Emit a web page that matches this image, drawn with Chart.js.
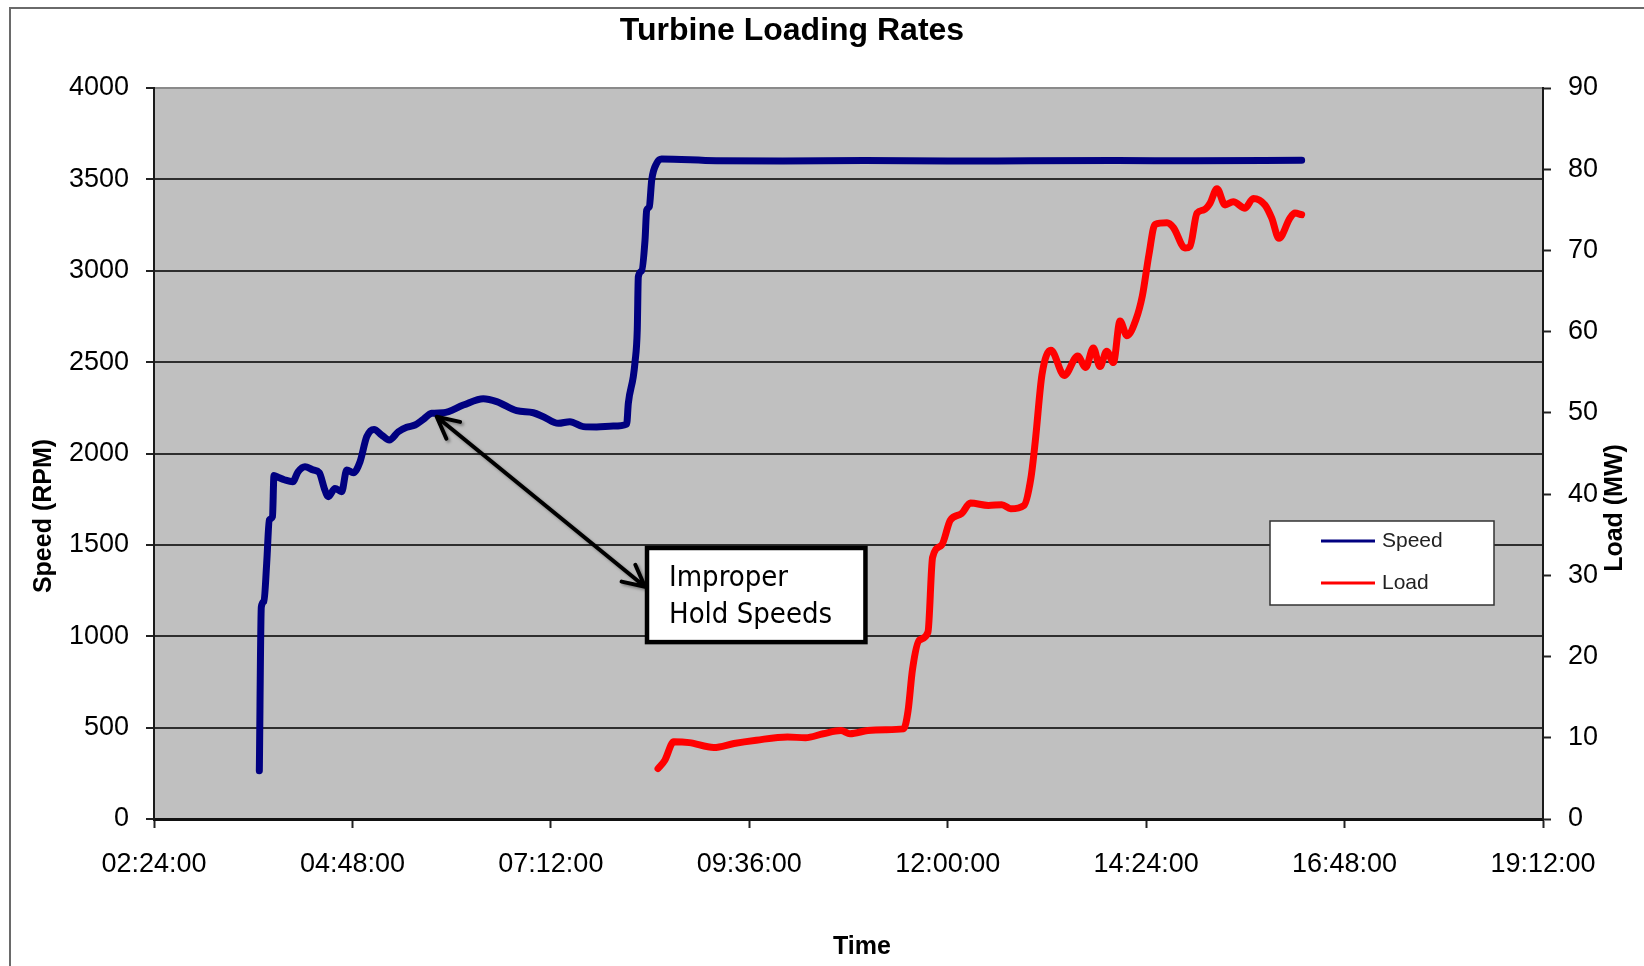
<!DOCTYPE html>
<html>
<head>
<meta charset="utf-8">
<title>Turbine Loading Rates</title>
<script src="https://cdn.jsdelivr.net/npm/chart.js@4.4.1/dist/chart.umd.min.js"></script>
<style>
  html,body{margin:0;padding:0;background:#fff;}
  #wrap{width:1644px;height:966px;}
</style>
</head>
<body>
<div id="wrap"><canvas id="chartTurbine" width="1644" height="966"></canvas></div>
<script>
// valores (hora en decimal)
const speedHours = [3.674, 3.698, 3.730, 3.763, 3.795, 3.833, 3.851, 3.900, 3.984, 4.078,
  4.142, 4.226, 4.323, 4.399, 4.460, 4.508, 4.589, 4.670, 4.731, 4.811,
  4.892, 4.973, 5.061, 5.154, 5.246, 5.355, 5.456, 5.557, 5.657, 5.759,
  5.899, 6.141, 6.383, 6.545, 6.787, 6.988, 7.109, 7.290, 7.431, 7.592,
  7.754, 7.955, 8.117, 8.137, 8.197, 8.218, 8.245, 8.258, 8.299, 8.339,
  8.359, 8.391, 8.420, 8.480, 8.540, 9.2, 10.0, 11.0, 12.0, 13.0,
  14.0, 15.0, 16.281];
const speedRpm = [264, 1160, 1190, 1400, 1636, 1655, 1880, 1870, 1855, 1846,
  1900, 1928, 1910, 1895, 1809, 1764, 1809, 1791, 1910, 1895,
  1955, 2092, 2132, 2101, 2074, 2119, 2143, 2156, 2187, 2220,
  2223, 2265, 2300, 2284, 2234, 2223, 2201, 2165, 2174, 2147,
  2145, 2150, 2161, 2275, 2420, 2500, 2676, 2967, 3000, 3168,
  3332, 3350, 3497, 3588, 3612, 3602, 3601, 3603, 3600, 3602,
  3603, 3602, 3604];

const loadHours = [8.496, 8.577, 8.686, 8.874, 9.171, 9.415, 9.685, 10.062, 10.279, 10.494,
  10.709, 10.818, 11.034, 11.250, 11.466, 11.520, 11.574, 11.655, 11.761, 11.817,
  11.925, 12.032, 12.168, 12.275, 12.492, 12.654, 12.762, 12.922, 13.005, 13.059,
  13.140, 13.248, 13.410, 13.572, 13.669, 13.761, 13.842, 13.923, 14.004, 14.084,
  14.168, 14.277, 14.354, 14.434, 14.507, 14.652, 14.731, 14.870, 14.930, 15.015,
  15.100, 15.172, 15.257, 15.354, 15.454, 15.596, 15.696, 15.837, 15.918, 16.007,
  16.140, 16.200, 16.281];
const loadMw = [6.2, 7.2, 9.5, 9.4, 8.8, 9.3, 9.7, 10.1, 10.0, 10.5,
  10.9, 10.5, 10.9, 11.0, 11.1, 13.3, 18.4, 22.0, 23.0, 32.2,
  33.7, 36.8, 37.6, 38.9, 38.6, 38.7, 38.2, 38.6, 41.9, 46.5,
  54.7, 57.7, 54.6, 57.0, 55.6, 58.0, 55.7, 57.6, 56.2, 61.3,
  59.5, 61.5, 64.4, 69.5, 73.2, 73.4, 72.8, 70.3, 70.5, 74.6,
  75.0, 75.8, 77.6, 75.6, 76.0, 75.2, 76.4, 75.6, 74.0, 71.5,
  74.0, 74.6, 74.4];

const seriesNames = ["Speed", "Load"];
const seriesColors = ["#000080", "#ff0000"];

// nota "Improper Hold Speeds" (en unidades del grafico)
const noteLines = ["Improper", "Hold Speeds"];
const noteArrow = {x1: 5.819, y1: 2201, x2: 8.339, y2: 1271};
const noteBox = {x1: 8.363, y1: 1483, x2: 11.005, y2: 968};

const FONT = "'Liberation Sans', Arial, sans-serif";

function fmtHora(h){
  const min = Math.round(h*60);
  const hh = Math.floor(min/60), mm = min%60;
  return String(hh).padStart(2,"0")+":"+String(mm).padStart(2,"0")+":00";
}

function cabeza(ctx, x, y, ang){
  const len = 24, sp = 0.47;
  ctx.moveTo(x - len*Math.cos(ang - sp), y - len*Math.sin(ang - sp));
  ctx.lineTo(x, y);
  ctx.lineTo(x - len*Math.cos(ang + sp), y - len*Math.sin(ang + sp));
}

const decoPlugin = {
  id: "deco",
  beforeDraw(chart){
    const {ctx, chartArea: a} = chart;
    ctx.save();
    ctx.fillStyle = "#fff";
    ctx.fillRect(0, 0, chart.width, chart.height);
    ctx.fillStyle = "#c0c0c0";
    ctx.fillRect(a.left, a.top, a.right - a.left, a.bottom - a.top);
    // marco exterior
    ctx.strokeStyle = "#6a6a6a";
    ctx.lineWidth = 2;
    ctx.strokeRect(10, 8, chart.width + 40, chart.height + 40);
    ctx.restore();
  },
  afterDraw(chart){
    const {ctx, chartArea: a} = chart;
    const sx = chart.scales.x, sy = chart.scales.y;
    ctx.save();
    ctx.fillStyle = "#000";
    ctx.textBaseline = "middle";
    ctx.textAlign = "center";

    // titulos
    ctx.font = "bold 32px " + FONT;
    ctx.fillText("Turbine Loading Rates", 792, 31);
    ctx.font = "bold 25px " + FONT;
    ctx.fillText("Time", 862, 947);
    ctx.save();
    ctx.translate(44, 516); ctx.rotate(-Math.PI/2);
    ctx.fillText("Speed (RPM)", 0, 0);
    ctx.restore();
    ctx.save();
    ctx.translate(1615, 508); ctx.rotate(-Math.PI/2);
    ctx.fillText("Load (MW)", 0, 0);
    ctx.restore();

    // flecha doble
    const ax1 = sx.getPixelForValue(noteArrow.x1), ay1 = sy.getPixelForValue(noteArrow.y1);
    const ax2 = sx.getPixelForValue(noteArrow.x2), ay2 = sy.getPixelForValue(noteArrow.y2);
    const ang = Math.atan2(ay2 - ay1, ax2 - ax1);
    ctx.save();
    ctx.shadowColor = "rgba(0,0,0,0.35)";
    ctx.shadowOffsetX = 2; ctx.shadowOffsetY = 2; ctx.shadowBlur = 3;
    ctx.strokeStyle = "#000";
    ctx.lineWidth = 4;
    ctx.lineCap = "round"; ctx.lineJoin = "round";
    ctx.beginPath();
    ctx.moveTo(ax1, ay1); ctx.lineTo(ax2, ay2);
    cabeza(ctx, ax1, ay1, ang + Math.PI);
    cabeza(ctx, ax2, ay2, ang);
    ctx.stroke();
    ctx.restore();

    // caja de la nota
    const bx1 = sx.getPixelForValue(noteBox.x1), by1 = sy.getPixelForValue(noteBox.y1);
    const bx2 = sx.getPixelForValue(noteBox.x2), by2 = sy.getPixelForValue(noteBox.y2);
    ctx.fillStyle = "#fff";
    ctx.fillRect(bx1, by1, bx2 - bx1, by2 - by1);
    ctx.strokeStyle = "#000";
    ctx.lineWidth = 4.5;
    ctx.strokeRect(bx1, by1, bx2 - bx1, by2 - by1);
    ctx.fillStyle = "#000";
    ctx.textAlign = "left";
    ctx.textBaseline = "alphabetic";
    ctx.font = "29px 'DejaVu Sans Condensed', 'DejaVu Sans', sans-serif";
    ctx.fillText(noteLines[0], bx1 + 22, by1 + 38);
    ctx.fillText(noteLines[1], bx1 + 22, by1 + 75);

    // leyenda
    const lx = a.right - 273, ly = a.top + 433;
    ctx.fillStyle = "#fff";
    ctx.fillRect(lx, ly, 224, 84);
    ctx.strokeStyle = "#333";
    ctx.lineWidth = 1.5;
    ctx.strokeRect(lx, ly, 224, 84);
    ctx.font = "21px " + FONT;
    ctx.textBaseline = "middle";
    chart.data.datasets.forEach((ds, i) => {
      const yy = ly + 20 + i*42;
      ctx.strokeStyle = ds.borderColor;
      ctx.lineWidth = 3;
      ctx.beginPath();
      ctx.moveTo(lx + 51, yy); ctx.lineTo(lx + 105, yy);
      ctx.stroke();
      ctx.fillStyle = "#222";
      ctx.fillText(ds.label, lx + 112, yy);
    });
    ctx.restore();
  }
};

const ctxT = document.getElementById("chartTurbine").getContext("2d");
new Chart(ctxT, {
  type: "line",
  data: {
    datasets: [{
      label: seriesNames[0],
      data: speedHours.map((h, i) => ({x: h, y: speedRpm[i]})),
      borderColor: seriesColors[0],
      borderWidth: 7,
      pointRadius: 0,
      cubicInterpolationMode: "monotone",
      borderCapStyle: "round",
      borderJoinStyle: "round",
      yAxisID: "y"
    }, {
      label: seriesNames[1],
      data: loadHours.map((h, i) => ({x: h, y: loadMw[i]})),
      borderColor: seriesColors[1],
      borderWidth: 7,
      pointRadius: 0,
      cubicInterpolationMode: "monotone",
      borderCapStyle: "round",
      borderJoinStyle: "round",
      yAxisID: "y1"
    }]
  },
  options: {
    responsive: false,
    animation: false,
    devicePixelRatio: 1,
    layout: { padding: { top: 88, left: 0, right: 0, bottom: 0 } },
    plugins: {
      legend: { display: false },
      tooltip: { enabled: false },
      title: { display: false }
    },
    scales: {
      x: {
        type: "linear",
        min: 2.4, max: 19.2,
        afterFit(s){ s.height = 147; },
        ticks: {
          stepSize: 2.4,
          padding: 20,
          color: "#000",
          font: { family: FONT, size: 27 },
          maxRotation: 0,
          callback: v => fmtHora(v)
        },
        grid: { drawOnChartArea: false, drawTicks: true, tickLength: 9, tickColor: "#222", tickWidth: 2 },
        border: { color: "#111", width: 3 }
      },
      y: {
        position: "left",
        min: 0, max: 4000,
        afterFit(s){ s.width = 154; },
        ticks: { stepSize: 500, padding: 17, color: "#000", font: { family: FONT, size: 27 }, callback: v => String(v) },
        grid: {
          color: c => (c.tick && c.tick.value === 4000) ? "#8a8a8a" : "#2e2e2e",
          lineWidth: 2,
          tickLength: 8,
          tickColor: "#222",
          tickWidth: 2
        },
        border: { color: "#1a1a1a", width: 2 }
      },
      y1: {
        position: "right",
        min: 0, max: 90,
        afterFit(s){ s.width = 101; },
        ticks: { stepSize: 10, padding: 17, color: "#000", font: { family: FONT, size: 27 }, callback: v => String(v) },
        grid: { drawOnChartArea: false, tickLength: 8, tickColor: "#222", tickWidth: 2 },
        border: { color: "#1a1a1a", width: 2 }
      }
    }
  },
  plugins: [decoPlugin]
});
</script>
</body>
</html>
